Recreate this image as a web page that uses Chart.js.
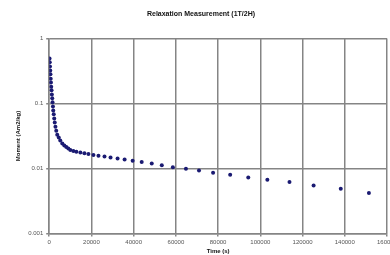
<!DOCTYPE html>
<html>
<head>
<meta charset="utf-8">
<script src="https://cdn.jsdelivr.net/npm/chart.js@4.4.0/dist/chart.umd.min.js"></script>
<style>
  html, body { margin: 0; padding: 0; background: #fff; overflow: hidden; }
  #wrap { position: relative; width: 404px; height: 255px; }
</style>
</head>
<body>
<div id="wrap"><canvas id="chart"></canvas></div>
<script>
// time (s) and moment (Am2/kg)
const times = [
  150, 250, 350, 480, 590, 710, 830, 950, 1100, 1240,
  1430, 1570, 1760, 1900, 2140, 2380, 2620, 2950, 3330, 3800,
  4520, 5240, 6190, 7140, 8100, 9050, 10000, 11430, 12860, 14760,
  16670, 18570, 20950, 23330, 26190, 29050, 32380, 35710, 39520, 43810,
  48570, 53330, 58570, 64760, 70950, 77620, 85710, 94290, 103330, 113810,
  125240, 138100, 151430
];
const moments = [
  0.49, 0.43, 0.37, 0.32, 0.28, 0.24, 0.21, 0.18, 0.16, 0.137,
  0.12, 0.104, 0.090, 0.078, 0.068, 0.059, 0.051, 0.044, 0.038, 0.033,
  0.030, 0.027, 0.0243, 0.0225, 0.0214, 0.0203, 0.0193, 0.0186, 0.0181, 0.0176,
  0.0171, 0.0167, 0.0162, 0.0157, 0.0153, 0.0148, 0.0143, 0.0138, 0.0132, 0.0126,
  0.0119, 0.0112, 0.0105, 0.0099, 0.0093, 0.0086, 0.0080, 0.0073, 0.0067, 0.0062,
  0.0055, 0.0049, 0.0042
];

const yTicks = [0.001, 0.01, 0.1, 1];
const yTickLabels = ['0.001', '0.01', '0.1', '1'];
const xTicks = [0, 20000, 40000, 60000, 80000, 100000, 120000, 140000, 160000];
const xTickLabels = ['0', '20000', '40000', '60000', '80000', '100000', '120000', '140000', '160000'];

const points = times.map((t, i) => ({ x: t, y: moments[i] }));

const gridCol = '#858585';
const tickFont = { family: 'Liberation Sans', size: 6 };

new Chart(document.getElementById('chart'), {
  type: 'scatter',
  data: {
    datasets: [{
      data: points,
      pointRadius: 2,
      pointBackgroundColor: '#1a1a72',
      pointBorderWidth: 0,
    }],
  },
  options: {
    responsive: true,
    maintainAspectRatio: false,
    animation: false,
    layout: { padding: { left: 15, right: 17, top: 6, bottom: 0 } },
    plugins: {
      legend: { display: false },
      tooltip: { enabled: false },
      title: {
        display: true,
        text: 'Relaxation Measurement (1T/2H)',
        color: '#111',
        font: { family: 'Liberation Sans', size: 7, weight: 'bold' },
        padding: { top: 4, bottom: 20 },
      },
    },
    scales: {
      x: {
        type: 'linear',
        min: 0,
        max: 160000,
        afterBuildTicks: s => { s.ticks = xTicks.map(v => ({ value: v })); },
        ticks: {
          color: '#555',
          font: tickFont,
          padding: 2,
          maxRotation: 0,
          callback: v => xTickLabels[xTicks.indexOf(v)],
        },
        grid: { color: gridCol, lineWidth: 1.5, tickLength: 3 },
        border: { color: gridCol, width: 1.5 },
        title: {
          display: true,
          text: 'Time (s)',
          color: '#111',
          font: { family: 'Liberation Sans', size: 6, weight: 'bold' },
          padding: { top: 0, bottom: 0 },
        },
      },
      y: {
        type: 'logarithmic',
        min: 0.001,
        max: 1,
        afterBuildTicks: s => { s.ticks = yTicks.map(v => ({ value: v })); },
        ticks: {
          color: '#555',
          font: tickFont,
          padding: 3,
          callback: v => yTickLabels[yTicks.indexOf(v)],
        },
        grid: { color: gridCol, lineWidth: 1.5, tickLength: 3 },
        border: { color: gridCol, width: 1.5 },
        title: {
          display: true,
          text: 'Moment (Am2/kg)',
          color: '#111',
          font: { family: 'Liberation Sans', size: 6, weight: 'bold' },
          padding: { top: 0, bottom: 3 },
        },
      },
    },
  },
});
</script>
</body>
</html>
